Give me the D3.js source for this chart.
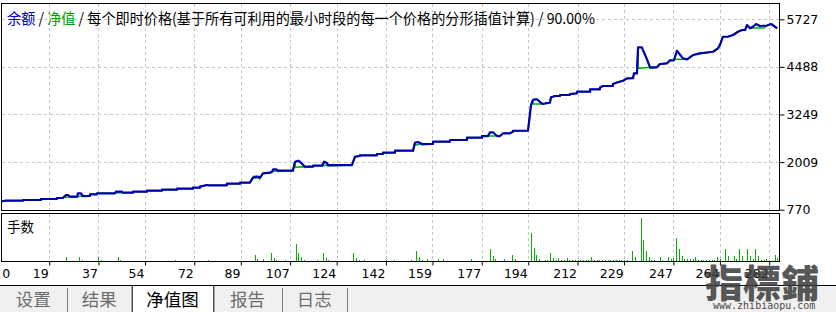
<!DOCTYPE html>
<html>
<head>
<meta charset="utf-8">
<script src="https://cdn.jsdelivr.net/npm/d3@7"></script>
<style>
  html, body { margin: 0; padding: 0; background: #fff; }
  svg { display: block; font-family: "DejaVu Sans", sans-serif; }
</style>
</head>
<body>
<div id="chart"></div>
<script>
// balance curve: [trade #, balance]
const balance = [
  [1.5,983],[2.9,1004],[9.4,1004],[9.4,1022],[16,1022],[16,1049],[21.8,1049],[21.8,1075],[24,1075],
  [25.1,1153],[25.9,1153],[26.6,1108],[29.2,1108],[29.5,1197],[30.6,1197],[31.3,1127],[33.9,1127],
  [33.9,1171],[36.5,1171],[36.5,1197],[43,1197],[43.4,1239],[45.6,1239],[45.9,1213],[49.6,1213],
  [49.6,1239],[54.7,1239],[54.7,1265],[60.2,1265],[60.2,1291],[65.7,1291],[65.7,1317],[71.5,1317],
  [71.5,1343],[74.1,1343],[74.1,1369],[76.6,1413],[77.4,1405],[83.9,1405],[83.9,1447],[88.7,1447],
  [88.7,1473],[92.3,1473],[93.4,1603],[94.2,1629],[95.3,1629],[96,1603],[97.1,1717],[99.7,1733],
  [100.4,1759],[100.8,1822],[101.8,1822],[102.6,1785],[108,1785],[108.8,2019],[109.9,2045],[110.6,2019],
  [112.4,1889],[115.4,1889],[115.4,1915],[118.7,1915],[119.4,2019],[120.5,1986],[120.8,1933],[129.6,1933],
  [130.7,2150],[132.5,2168],[132.5,2186],[138.7,2186],[138.7,2220],[140.9,2220],[140.9,2254],[145.3,2254],
  [145.3,2306],[151.9,2306],[152.6,2514],[153.7,2532],[155.2,2480],[159.2,2480],[159.2,2540],[165.4,2540],
  [165.4,2584],[171.6,2584],[171.6,2644],[177.1,2644],[177.1,2688],[179.3,2688],[180,2785],[181.1,2785],
  [182.6,2688],[183.7,2688],[184.8,2759],[187.3,2759],[188.4,2800],[188.4,2826],[193.9,2826],[195,3495],
  [195.7,3626],[196.5,3644],[197.2,3644],[198.7,3547],[199.4,3521],[200.8,3547],[201.9,3555],[202.3,3696],
  [203.8,3730],[205.6,3730],[205.6,3756],[209.2,3756],[209.2,3782],[211.8,3800],[211.8,3842],[216.6,3842],
  [216.6,3904],[220.2,3904],[220.2,3951],[221.3,3990],[224.9,3990],[224.9,4042],[226.4,4081],[228.6,4128],
  [230.1,4190],[232.3,4198],[232.6,4320],[233.7,4320],[234.1,4997],[235.5,4997],[237,4745],[238.5,4477],
  [241,4477],[242.1,4563],[244.7,4581],[245.8,4659],[247.2,4659],[248.3,4909],[250.5,4711],[252,4685],
  [254.2,4797],[256.7,4841],[261.5,4883],[263.3,4971],[264,5057],[265.1,5273],[266.9,5273],[268.8,5318],
  [270.6,5403],[272.1,5448],[273.2,5448],[273.9,5578],[275,5492],[276.1,5534],[277.2,5604],[278.6,5552],
  [281.2,5565],[282.7,5604],[283.8,5552],[284.9,5492]
];

// equity differs from balance only on these flat stretches: [from, to, equity]
const equityFlats = [
  [24,26.6,1090],[29.2,31.3,1110],[43,45.9,1213],[93.4,96,1590],[100.4,102.6,1765],
  [108.8,112.4,1874],[118.7,120.8,1910],[152.6,155.2,2455],[179.3,182.6,2688],
  [195.7,199.4,3521],[234.1,238.5,4451],[247.2,252,4685],[276.1,280,5500]
];

// lots per trade: [trade #, lots]
const lots = [
  [25,0.04],[30,0.04],[31,0.01],[37,0.04],[38,0.01],[44,0.04],[45,0.01],[65,0.01],[77,0.01],
  [94,0.06],[95,0.02],[97,0.02],[100,0.08],[101,0.03],[102,0.01],[105,0.01],[109,0.17],[110,0.08],
  [111,0.04],[112,0.01],[117,0.01],[119,0.08],[120,0.03],[121,0.01],[130,0.08],[131,0.03],[132,0.01],
  [134,0.01],[142,0.01],[145,0.01],[151,0.01],[153,0.10],[154,0.04],[155,0.01],[157,0.02],[161,0.02],
  [163,0.02],[173,0.02],[180,0.12],[181,0.05],[182,0.02],[185,0.02],[188,0.06],[189,0.02],[195,0.28],
  [196,0.13],[197,0.06],[198,0.02],[200,0.01],[201,0.01],[202,0.08],[203,0.03],[204,0.01],[205,0.03],
  [206,0.01],[207,0.01],[208,0.03],[209,0.01],[210,0.01],[211,0.01],[212,0.01],[213,0.01],[214,0.01],
  [215,0.01],[216,0.01],[217,0.04],[218,0.01],[219,0.01],[220,0.01],[221,0.01],[222,0.01],[223,0.01],
  [224,0.01],[225,0.01],[226,0.01],[227,0.01],[228,0.01],[229,0.01],[230,0.01],[232,0.10],[233,0.04],
  [235,0.43],[236,0.21],[237,0.10],[238,0.04],[239,0.01],[240,0.01],[242,0.04],[243,0.01],[245,0.04],
  [246,0.02],[247,0.03],[248,0.23],[249,0.12],[250,0.05],[251,0.02],[252,0.02],[253,0.02],[254,0.02],
  [255,0.04],[256,0.01],[257,0.01],[258,0.01],[259,0.01],[260,0.01],[261,0.01],[262,0.01],[263,0.04],
  [264,0.02],[266,0.12],[267,0.05],[269,0.05],[270,0.02],[271,0.12],[272,0.05],[274,0.12],[275,0.05],
  [276,0.02],[277,0.12],[278,0.05],[279,0.01],[280,0.01],[281,0.02],[282,0.01],[284,0.06],[285,0.03]
];

const xTicks = [0, 19, 37, 54, 72, 89, 107, 124, 142, 159, 177, 194, 212, 229, 247, 264, 282];
const yTicks = [770, 2009, 3249, 4488, 5727];
const titleParts = [
  { text: '余额', color: '#0000c8' },
  { text: ' / ', color: '#000' },
  { text: '净值', color: '#00a000' },
  { text: ' / 每个即时价格(基于所有可利用的最小时段的每一个价格的分形插值计算) / 90.00%', color: '#000' }
];
const volumeLabel = '手数';
const tabs = ['设置', '结果', '净值图', '报告', '日志'];
const activeTab = 2;

// Setup dimensions
const width = 836, height = 312;
const plot = { left: 1.5, right: 779.5, top: 3.5, bottom: 210.5 };
const vol = { top: 213.5, bottom: 261.5 };

const svg = d3.select('#chart').append('svg')
  .attr('width', width)
  .attr('height', height);

const x = d3.scaleLinear().domain([1.5, 285.7]).range([1.3, 779.3]);
const y = d3.scaleLinear().domain([770, 5727]).range([209.7, 19.3]);
const yv = d3.scaleLinear().domain([0, 0.43]).range([vol.bottom - 0.5, vol.bottom - 43.5]);

// panels
svg.append('rect')
  .attr('x', plot.left).attr('y', plot.top)
  .attr('width', plot.right - plot.left).attr('height', plot.bottom - plot.top)
  .attr('fill', '#fff');

// grid
const grid = svg.append('g')
  .attr('stroke', '#c6c6c6')
  .attr('stroke-dasharray', '3,3')
  .attr('shape-rendering', 'crispEdges');
xTicks.filter(v => v > 0).forEach(v => {
  const gx = Math.round(x(v)) + 0.5;
  grid.append('line').attr('x1', gx).attr('x2', gx).attr('y1', plot.top).attr('y2', plot.bottom);
  grid.append('line').attr('x1', gx).attr('x2', gx).attr('y1', vol.top).attr('y2', vol.bottom);
});
yTicks.filter(v => v > 770).forEach(v => {
  const gy = Math.round(y(v)) + 0.5;
  grid.append('line').attr('x1', plot.left).attr('x2', plot.right).attr('y1', gy).attr('y2', gy);
});

// equity series = balance with the flat stretches
const inFlat = t => equityFlats.some(f => t > f[0] && t < f[1]);
const equity = balance.filter(p => !inFlat(p[0]))
  .concat(equityFlats.flatMap(f => [[f[0], f[2]], [f[1], f[2]]]))
  .sort((a, b) => a[0] - b[0]);

const line = d3.line().x(d => x(d[0])).y(d => y(d[1]));

svg.append('path')
  .datum(equity)
  .attr('d', line)
  .attr('fill', 'none')
  .attr('stroke', '#00b400')
  .attr('stroke-width', 1.6);

svg.append('path')
  .datum(balance)
  .attr('d', line)
  .attr('fill', 'none')
  .attr('stroke', '#0000b0')
  .attr('stroke-width', 2.2)
  .attr('stroke-linejoin', 'round');

// panel borders
svg.append('rect')
  .attr('x', plot.left).attr('y', plot.top)
  .attr('width', plot.right - plot.left).attr('height', plot.bottom - plot.top)
  .attr('fill', 'none').attr('stroke', '#000');
svg.append('rect')
  .attr('x', plot.left).attr('y', vol.top)
  .attr('width', plot.right - plot.left).attr('height', vol.bottom - vol.top)
  .attr('fill', 'none').attr('stroke', '#000');

// volume bars
svg.append('g')
  .selectAll('rect')
  .data(lots)
  .enter()
  .append('rect')
  .attr('x', d => Math.round(x(d[0])))
  .attr('width', 1)
  .attr('y', d => Math.round(yv(d[1])))
  .attr('height', d => Math.round(yv(0)) - Math.round(yv(d[1])))
  .attr('fill', '#00b400');

// y axis
const yAxis = svg.append('g')
  .attr('transform', `translate(${plot.right},0)`)
  .call(d3.axisRight(y).tickValues(yTicks).tickSize(5).tickPadding(2).tickFormat(d3.format('d')));
yAxis.select('.domain').remove();
yAxis.selectAll('line').attr('stroke', '#000');
yAxis.selectAll('text')
  .attr('fill', '#000')
  .style('font-family', '"DejaVu Sans", sans-serif')
  .style('font-size', '12.5px');

// x axis
const xAxis = svg.append('g')
  .attr('transform', `translate(0,${vol.bottom})`)
  .call(d3.axisBottom(x).tickValues(xTicks).tickSize(4).tickPadding(4).tickFormat(d3.format('d')));
xAxis.select('.domain').remove();
xAxis.selectAll('line').attr('stroke', '#000');
xAxis.selectAll('text')
  .attr('fill', '#000')
  .attr('text-anchor', d => d === 0 ? 'start' : 'end')
  .attr('x', d => d === 0 ? 1.7 - x(0) : -1)
  .style('font-family', '"DejaVu Sans", sans-serif')
  .style('font-size', '12.5px');

// title (squeezed to the reference's width)
const title = svg.append('text')
  .attr('x', 7)
  .attr('y', 23.5)
  .attr('textLength', 588)
  .attr('lengthAdjust', 'spacingAndGlyphs')
  .style('font-family', '"Noto Sans CJK SC", sans-serif')
  .style('font-size', '15px');
titleParts.forEach(p => {
  title.append('tspan').attr('fill', p.color).text(p.text);
});

svg.append('text')
  .attr('x', 7)
  .attr('y', 232)
  .style('font-family', '"Noto Sans CJK SC", sans-serif')
  .style('font-size', '13.5px')
  .attr('fill', '#000')
  .text(volumeLabel);

// bottom tab strip
const tabEdges = [0, 66.7, 131.7, 213.3, 281.7, 346.7];
svg.append('rect')
  .attr('x', 0).attr('y', 285)
  .attr('width', width).attr('height', height - 285)
  .attr('fill', '#f0f0f0');
svg.append('line')
  .attr('x1', 0).attr('x2', width).attr('y1', 285.5).attr('y2', 285.5)
  .attr('stroke', '#000');
svg.append('rect')
  .attr('x', tabEdges[activeTab] + 0.5).attr('y', 285.5)
  .attr('width', tabEdges[activeTab + 1] - tabEdges[activeTab]).attr('height', 30)
  .attr('fill', '#fff').attr('stroke', '#000');

const tabG = svg.append('g');
tabs.forEach((t, i) => {
  if (i !== activeTab && i + 1 !== activeTab) {
    const sx = Math.round(tabEdges[i + 1]) + 0.5;
    tabG.append('line')
      .attr('x1', sx).attr('x2', sx).attr('y1', 288).attr('y2', 312)
      .attr('stroke', '#808080');
  }
  tabG.append('text')
    .attr('x', (tabEdges[i] + tabEdges[i + 1]) / 2)
    .attr('y', 306)
    .attr('text-anchor', 'middle')
    .style('font-family', '"Noto Sans CJK SC", sans-serif')
    .style('font-size', '17.5px')
    .attr('fill', i === activeTab ? '#000' : '#6d6d6d')
    .text(t);
});

// watermark
svg.append('text')
  .attr('x', 705)
  .attr('y', 297)
  .style('font-family', '"Noto Sans CJK TC", sans-serif')
  .style('font-size', '38px')
  .style('font-weight', '900')
  .attr('fill', '#3c3c3c')
  .attr('opacity', 0.85)
  .text('指標鋪');
svg.append('text')
  .attr('x', 713)
  .attr('y', 309)
  .style('font-family', '"DejaVu Sans Mono", monospace')
  .style('font-size', '10px')
  .attr('fill', '#4a4a4a')
  .text('www.zhibiaopu.com');
</script>
</body>
</html>
